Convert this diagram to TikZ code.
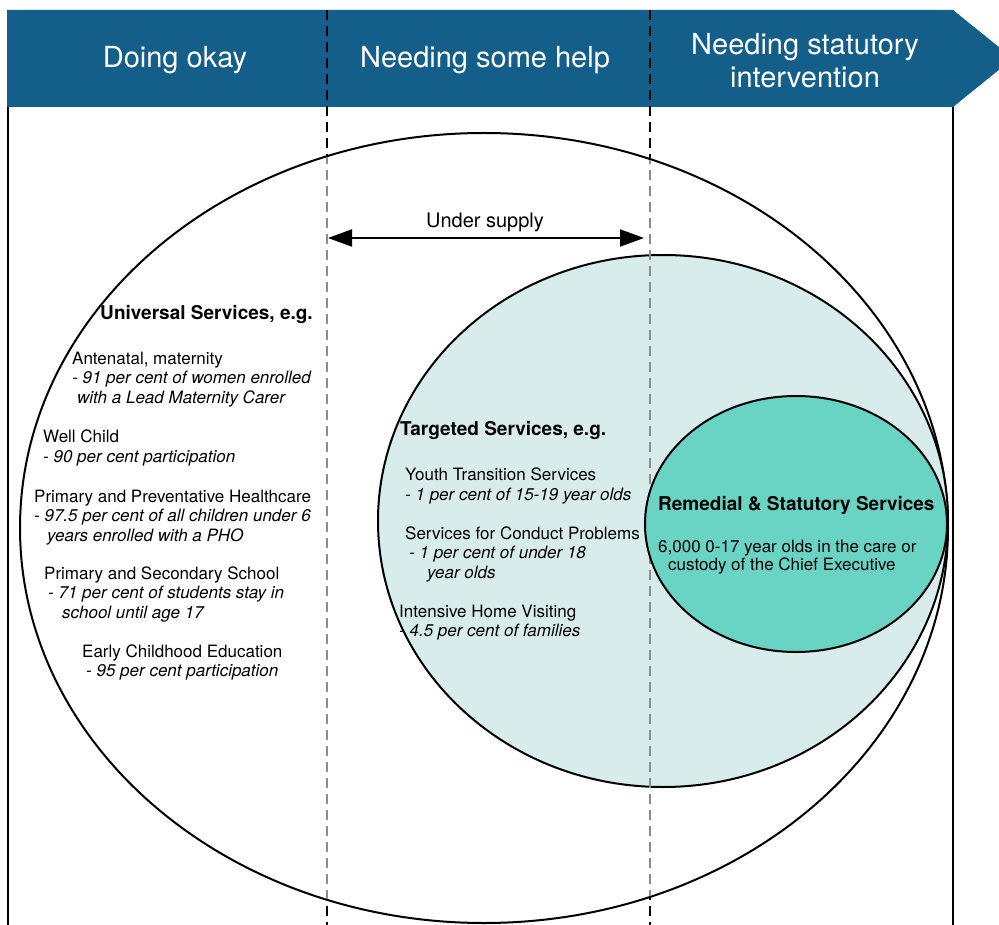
\documentclass[tikz,border=0pt]{standalone}
\usepackage{fontspec}
\setmainfont{TeX Gyre Heros}
\usetikzlibrary{arrows.meta}

\definecolor{bandblue}{RGB}{20,95,138}
\definecolor{targetfill}{RGB}{216,236,236}
\definecolor{remedialfill}{RGB}{106,212,196}
\newcommand{\pct}[1]{{\itshape #1}}

\begin{document}
\begin{tikzpicture}[x=1pt, y=-1pt,
    bandtext/.style={text=white, align=center, inner sep=0pt, font=\fontsize{29}{33}\selectfont},
    headtext/.style={anchor=base west, inner sep=0pt, font=\fontsize{19}{22}\selectfont\bfseries},
    itemtext/.style={anchor=base west, inner sep=0pt, align=left, font=\fontsize{17}{19.5}\selectfont},
    blackdash/.style={black, line width=1.6pt, dash pattern=on 10pt off 6pt},
    greydash/.style={black!45, line width=1.3pt, dash pattern=on 10pt off 6pt},
    ring/.style={black, line width=2pt},
    supplyarrow/.style={line width=2pt, {Triangle[length=24pt,width=17pt]}-{Triangle[length=24pt,width=17pt]}}]
    \useasboundingbox[fill=white] (0,0) rectangle (999,925);

    % Define the points of the frame and dividers
    \coordinate (okayT) at (327,10);
    \coordinate (okayB) at (327,925);
    \coordinate (helpT) at (650,10);
    \coordinate (helpB) at (650,925);
    \coordinate (leftT) at (8,107);
    \coordinate (leftB) at (8,925);
    \coordinate (rightT) at (953,107);
    \coordinate (rightB) at (953,925);
    \coordinate (supplyL) at (328,238);
    \coordinate (supplyR) at (644,238);

    % Draw the header arrow
    \fill[bandblue] (7,10) -- (953,10) -- (1013,58.5) -- (953,107) -- (7,107) -- cycle;
    \draw[black!70, line width=0.6pt] (953,10) -- (rightT);
    \node (okay) at (175,60) [bandtext] {Doing okay};
    \node (help) at (485,60) [bandtext] {Needing some help};
    \node (statutory) at (805,61) [bandtext] {Needing statutory\\intervention};

    % Draw the frame and the dashed dividers
    \draw[line width=2pt] (leftT) -- (leftB);
    \draw[line width=2pt] (rightT) -- (rightB);
    \draw[blackdash] (okayT) -- (okayB);
    \draw[blackdash] (helpT) -- (helpB);

    % Draw the three service ellipses
    \filldraw[ring, fill=white] (484,528) ellipse [x radius=464pt, y radius=395pt];
    \filldraw[ring, fill=targetfill] (663,521) ellipse [x radius=285pt, y radius=266pt];
    \begin{scope}
        \clip (484,528) ellipse [x radius=463pt, y radius=394pt];
        \draw[greydash] (okayT) -- (okayB);
        \draw[greydash] (helpT) -- (helpB);
    \end{scope}
    \filldraw[ring, fill=remedialfill] (796,524) ellipse [x radius=151pt, y radius=128pt];

    % Under supply arrow
    \draw[supplyarrow] (supplyL) -- (supplyR);
    \node (supply) at (485,222) [font=\fontsize{20}{22}\selectfont] {Under supply};

    % Universal services (base = last line)
    \node (uhead) at (100,320) [headtext] {Universal Services, e.g.};
    \node (antenatal) at (72,403) [itemtext] {Antenatal, maternity\\\pct{- 91 per cent of women enrolled}\\\hspace*{5pt}\pct{with a Lead Maternity Carer}};
    \node (wellchild) at (43,462) [itemtext] {Well Child\\\pct{- 90 per cent participation}};
    \node (primary) at (34,541) [itemtext] {Primary and Preventative Healthcare\\\pct{- 97.5 per cent of all children under 6}\\\hspace*{13pt}\pct{years enrolled with a PHO}};
    \node (school) at (44,618) [itemtext] {Primary and Secondary School\\\hspace*{4pt}\pct{- 71 per cent of students stay in}\\\hspace*{18pt}\pct{school until age 17}};
    \node (early) at (82,676.5) [itemtext] {Early Childhood Education\\\hspace*{4pt}\pct{- 95 per cent participation}};

    % Targeted services
    \node (thead) at (400,435) [headtext] {Targeted Services, e.g.};
    \node (youth) at (405,500) [itemtext] {Youth Transition Services\\\pct{- 1 per cent of 15-19 year olds}};
    \node (conduct) at (405,578) [itemtext] {Services for Conduct Problems\\\hspace*{4pt}\pct{- 1 per cent of under 18}\\\hspace*{22pt}\pct{year olds}};
    \node (home) at (399,636.5) [itemtext] {Intensive Home Visiting\\\pct{- 4.5 per cent of families}};

    % Remedial and statutory services
    \node (rhead) at (658,510) [headtext] {Remedial \& Statutory Services};
    \node (custody) at (658,570.5) [itemtext, font=\fontsize{17}{18.5}\selectfont] {6,000 0-17 year olds in the care or\\\hspace*{10pt}custody of the Chief Executive};
\end{tikzpicture}
\end{document}
